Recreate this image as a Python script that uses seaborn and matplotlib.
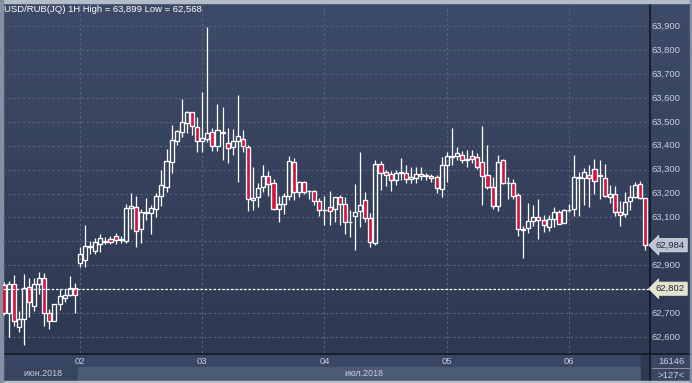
import numpy as np
import pandas as pd
import matplotlib
matplotlib.use("Agg")
import matplotlib.pyplot as plt
import seaborn as sns
from matplotlib.patches import Rectangle
from matplotlib.colors import LinearSegmentedColormap
from matplotlib.transforms import blended_transform_factory

# ---------------- data ----------------
symbol_title = "USD/RUB(JQ) 1H High = 63,899 Low = 62,568"
month_labels = ["июн.2018", "июл.2018"]
bar_count_label = ">127<"
bar_total_label = "16146"
last_price = 62.984
marker_price = 62.802

opens = [62.818, 62.701, 62.820, 62.641, 62.675, 62.808, 62.730, 62.820, 62.846, 62.702,
         62.668, 62.737, 62.765, 62.774, 62.804,
         62.911, 62.922, 62.978, 62.961, 62.988, 62.998, 63.010, 63.023, 63.005, 63.002,
         63.138, 63.145, 63.051, 63.120, 63.118, 63.135, 63.191, 63.229, 63.333, 63.421,
         63.459, 63.494, 63.540, 63.480, 63.420, 63.428, 63.456, 63.399, 63.459, 63.410,
         63.394, 63.420, 63.427, 63.394, 63.175, 63.185, 63.226, 63.274, 63.243, 63.134,
         63.158, 63.190, 63.331, 63.208, 63.249, 63.210, 63.211, 63.169, 63.130, 63.143,
         63.134, 63.184, 63.155, 63.080, 63.108, 63.128, 63.172, 63.097, 62.992, 63.324,
         63.289, 63.282, 63.256, 63.286, 63.285, 63.260, 63.264, 63.282, 63.274, 63.274,
         63.271, 63.220, 63.320, 63.352, 63.358, 63.362, 63.340, 63.357, 63.354, 63.331,
         63.277, 63.229, 63.148, 63.341, 63.243, 63.243, 63.194, 63.049, 63.055, 63.087,
         63.103, 63.089, 63.061, 63.092, 63.122, 63.076, 63.130, 63.134, 63.264, 63.264,
         63.278, 63.301, 63.272, 63.264, 63.184, 63.197, 63.125, 63.115, 63.169, 63.184,
         63.239, 63.180]
closes = [62.702, 62.820, 62.667, 62.675, 62.806, 62.745, 62.820, 62.846, 62.702, 62.668,
          62.738, 62.772, 62.776, 62.804, 62.775,
          62.947, 62.981, 62.981, 62.996, 63.013, 63.000, 62.999, 63.005, 63.010, 63.138,
          63.147, 63.045, 63.122, 63.124, 63.138, 63.190, 63.236, 63.336, 63.424, 63.462,
          63.498, 63.540, 63.483, 63.418, 63.431, 63.452, 63.399, 63.466, 63.452, 63.390,
          63.421, 63.442, 63.399, 63.176, 63.180, 63.222, 63.274, 63.240, 63.134, 63.158,
          63.190, 63.336, 63.208, 63.249, 63.208, 63.212, 63.169, 63.131, 63.133, 63.128,
          63.184, 63.156, 63.082, 63.081, 63.125, 63.151, 63.099, 62.997, 63.322, 63.285,
          63.277, 63.256, 63.288, 63.290, 63.260, 63.268, 63.283, 63.272, 63.277, 63.265,
          63.222, 63.318, 63.357, 63.357, 63.371, 63.341, 63.344, 63.345, 63.312, 63.275,
          63.229, 63.149, 63.334, 63.243, 63.246, 63.191, 63.050, 63.052, 63.085, 63.100,
          63.089, 63.069, 63.094, 63.122, 63.073, 63.130, 63.133, 63.268, 63.268, 63.292,
          63.264, 63.253, 63.276, 63.190, 63.198, 63.122, 63.109, 63.164, 63.184, 63.236,
          63.180, 62.984]
highs = [62.830, 62.834, 62.859, 62.710, 62.862, 62.846, 62.846, 62.871, 62.869, 62.717,
         62.740, 62.800, 62.800, 62.856, 62.825,
         62.978, 63.069, 63.000, 63.013, 63.030, 63.019, 63.023, 63.036, 63.024, 63.157,
         63.203, 63.190, 63.135, 63.180, 63.152, 63.204, 63.299, 63.385, 63.487, 63.465,
         63.596, 63.547, 63.542, 63.519, 63.626, 63.899, 63.473, 63.575, 63.561, 63.473,
         63.470, 63.613, 63.466, 63.403, 63.310, 63.243, 63.320, 63.296, 63.260, 63.190,
         63.204, 63.357, 63.350, 63.253, 63.253, 63.215, 63.213, 63.180, 63.190, 63.211,
         63.187, 63.194, 63.185, 63.133, 63.240, 63.375, 63.205, 63.118, 63.340, 63.335,
         63.300, 63.295, 63.299, 63.350, 63.320, 63.310, 63.310, 63.310, 63.285, 63.280,
         63.278, 63.352, 63.376, 63.473, 63.396, 63.380, 63.382, 63.382, 63.371, 63.483,
         63.403, 63.271, 63.362, 63.345, 63.270, 63.260, 63.204, 63.064, 63.159, 63.153,
         63.176, 63.110, 63.109, 63.145, 63.131, 63.134, 63.157, 63.362, 63.292, 63.306,
         63.320, 63.343, 63.342, 63.324, 63.235, 63.232, 63.167, 63.205, 63.236, 63.250,
         63.254, 63.182]
lows = [62.690, 62.601, 62.646, 62.622, 62.568, 62.685, 62.709, 62.780, 62.646, 62.634,
        62.668, 62.712, 62.748, 62.772, 62.702,
        62.894, 62.894, 62.947, 62.947, 62.955, 62.988, 62.988, 62.988, 62.992, 62.992,
        63.052, 62.978, 62.995, 63.090, 63.030, 63.100, 63.149, 63.208, 63.287, 63.403,
        63.438, 63.455, 63.445, 63.375, 63.375, 63.417, 63.380, 63.380, 63.341, 63.330,
        63.362, 63.250, 63.372, 63.128, 63.130, 63.145, 63.208, 63.190, 63.130, 63.080,
        63.113, 63.173, 63.173, 63.187, 63.200, 63.176, 63.153, 63.108, 63.070, 63.069,
        63.082, 63.070, 63.030, 63.020, 62.965, 63.061, 63.082, 62.978, 62.985, 63.215,
        63.232, 63.212, 63.236, 63.257, 63.243, 63.245, 63.245, 63.257, 63.257, 63.249,
        63.201, 63.187, 63.250, 63.320, 63.341, 63.327, 63.310, 63.327, 63.301, 63.153,
        63.219, 63.134, 63.128, 63.240, 63.176, 63.177, 63.022, 62.929, 63.034, 63.064,
        63.008, 63.040, 63.045, 63.059, 63.073, 63.076, 63.124, 63.107, 63.108, 63.152,
        63.145, 63.198, 63.178, 63.187, 63.160, 63.107, 63.065, 63.103, 63.130, 63.180,
        63.176, 62.964]

# hourly bars, weekends skipped
times = pd.date_range("2018-06-29 09:00", "2018-07-06 15:00", freq="h")
times = times[times.dayofweek < 5]
price_ticks = [62.6, 62.7, 62.8, 62.9, 63.0, 63.1, 63.2, 63.3, 63.4, 63.5, 63.6, 63.7, 63.8, 63.9]

df = pd.DataFrame({"time": times, "open": opens, "high": highs, "low": lows, "close": closes})
df["idx"] = np.arange(len(df))

# ---------------- style ----------------
sns.set_theme(style="dark")
plt.rcParams["font.family"] = ["Liberation Sans", "DejaVu Sans"]

W, H = 692, 383
fig = plt.figure(figsize=(W / 100, H / 100), dpi=100)
fig.patch.set_facecolor("#323e58")

# background (pixel coordinates)
bg = fig.add_axes([0, 0, 1, 1])
bg.set_axis_off()
bg.set_xlim(0, W)
bg.set_ylim(H, 0)
cmap = LinearSegmentedColormap.from_list("bgc", ["#3e4b68", "#2c3750"])
bg.imshow(np.linspace(0, 1, 256).reshape(-1, 1), cmap=cmap, aspect="auto",
          extent=[0, W, H, 0], origin="upper", zorder=0)
# bottom time panel
bg.add_patch(Rectangle((0, 353), W, 28, color="#3a4764", zorder=1))
bg.add_patch(Rectangle((0, 367), 649, 13, color="#38455f", zorder=1))
bg.add_patch(Rectangle((78, 367), 564, 13, color="#4c5a76", zorder=1))
bg.add_patch(Rectangle((641, 354), 7, 26, color="#2f3a50", zorder=1))
# separators
bg.plot([649.5, 649.5], [2, 381], color="#0e131c", lw=1.1, zorder=2)
bg.plot([0, W], [353.5, 353.5], color="#0e131c", lw=1.1, zorder=2)
bg.plot([652, 690], [368, 368], color="#8795ab", lw=0.7, zorder=2)
# outer frame
bg.add_patch(Rectangle((0, 0), W, 2.5, color="#b3bcc8", zorder=3))
bg.add_patch(Rectangle((0, 380.5), W, 2.5, color="#b3bcc8", zorder=3))
bg.add_patch(Rectangle((0, 0), 2.5, H, color="#8590a4", zorder=3))
bg.add_patch(Rectangle((689.5, 0), 2.5, H, color="#8590a4", zorder=3))

# ---------------- price axes ----------------
ax = fig.add_axes([3 / W, 1 - 353 / H, 646 / W, 350 / H])
ax.patch.set_alpha(0)
ax.set_xlim(-0.1, 126.7)
ax.set_ylim(62.533, 63.9975)
ax.set_axis_off()

grid_c = "#56647f"
for p in price_ticks:
    ax.axhline(p, color=grid_c, lw=0.8, ls=(0, (2.2, 2.2)), zorder=1)
day_starts = df.index[df["time"].dt.hour == 0]
for i in day_starts:
    ax.axvline(i, color=grid_c, lw=0.8, ls=(0, (2.2, 2.2)), zorder=1)

up = df["close"] >= df["open"]
body_top = np.maximum(df["open"], df["close"])
body_bot = np.minimum(df["open"], df["close"])
ax.vlines(df["idx"], body_top, df["high"], color="white", lw=0.9, zorder=3)
ax.vlines(df["idx"], df["low"], body_bot, color="white", lw=0.9, zorder=3)
red = "#d4143f"
ax.bar(df["idx"][up], (body_top - body_bot)[up], bottom=body_bot[up], width=0.8,
       facecolor="none", edgecolor="white", linewidth=0.95, zorder=4)
ax.bar(df["idx"][~up], (body_top - body_bot)[~up], bottom=body_bot[~up], width=0.8,
       facecolor=red, edgecolor="white", linewidth=0.95, zorder=4)

ax.axhline(marker_price, color="white", lw=0.9, ls=(0, (2, 1.5)), zorder=5)

# ---------------- labels ----------------
txt_c = "#c8d0dc"
fs = 6.8
ytr = blended_transform_factory(fig.transFigure, ax.transData)
for p in price_ticks:
    # the price boxes cover the scale labels right next to them
    if min(abs(p - last_price), abs(p - marker_price)) < 0.03:
        continue
    fig.text(652 / W, p, f"{p:.3f}".replace(".", ","), transform=ytr, color=txt_c,
             fontsize=fs, va="center", ha="left", zorder=5)

fig.text(656 / W, last_price, f"{last_price:.3f}".replace(".", ","), transform=ytr,
         color="#1f2839", fontsize=fs, va="center", ha="left", zorder=10,
         bbox=dict(boxstyle="larrow,pad=0.22", fc="#b9c3d1", ec="#dde3ea", lw=0.6))
fig.text(656 / W, marker_price, f"{marker_price:.3f}".replace(".", ","), transform=ytr,
         color="#1f2839", fontsize=fs, va="center", ha="left", zorder=10,
         bbox=dict(boxstyle="larrow,pad=0.22", fc="#e4e4cd", ec="#f0f0e0", lw=0.6))

xtr = blended_transform_factory(ax.transData, fig.transFigure)
for i in day_starts:
    fig.text(i, 1 - 361 / H, df["time"][i].strftime("%d"), transform=xtr, color=txt_c,
             fontsize=fs, ha="center", va="center")
fig.text(43 / W, 1 - 374 / H, month_labels[0], color=txt_c, fontsize=fs - 0.4,
         ha="center", va="center")
fig.text(364 / W, 1 - 374 / H, month_labels[1], color=txt_c, fontsize=fs - 0.4,
         ha="center", va="center")
fig.text(671 / W, 1 - 361 / H, bar_total_label, color=txt_c, fontsize=fs,
         ha="center", va="center")
fig.text(671 / W, 1 - 375 / H, bar_count_label, color=txt_c, fontsize=fs,
         ha="center", va="center")

fig.text(4 / W, 1 - 10 / H, symbol_title, color="white", fontsize=6.8,
         ha="left", va="center")

fig.savefig("out.png", dpi=100, facecolor=fig.get_facecolor())
